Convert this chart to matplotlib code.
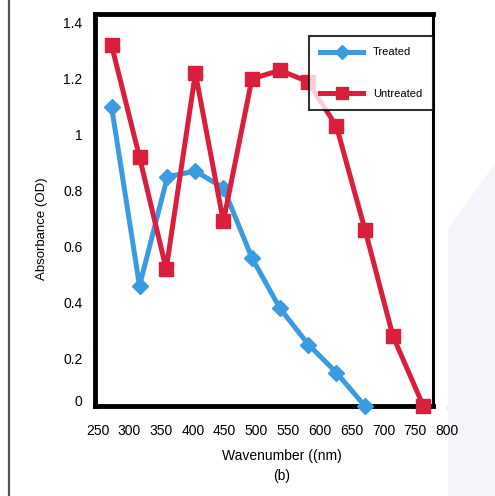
import matplotlib
matplotlib.use("Agg")
import matplotlib.pyplot as plt
from matplotlib.patches import Polygon
from matplotlib.lines import Line2D
from matplotlib.transforms import ScaledTranslation

plt.rcParams['font.family'] = ['Liberation Sans', 'DejaVu Sans']

# values
treated_x = [272, 316, 360, 404, 448, 493, 537, 582, 626, 671]
treated_y = [1.07, 0.43, 0.82, 0.84, 0.78, 0.53, 0.35, 0.22, 0.12, 0.0]
untreated_x = [272, 316, 358, 404, 448, 493, 537, 581, 626, 671, 715, 763]
untreated_y = [1.29, 0.89, 0.49, 1.19, 0.66, 1.17, 1.20, 1.16, 1.00, 0.63, 0.25, 0.0]
x_ticks = [250, 300, 350, 400, 450, 500, 550, 600, 650, 700, 750, 800]
y_ticks = [0, 0.2, 0.4, 0.6, 0.8, 1.0, 1.2, 1.4]
y_tick_labels = ['0', '0.2', '0.4', '0.6', '0.8', '1', '1.2', '1.4']

blue = '#3b9be0'
red = '#d91f3c'

fig = plt.figure(figsize=(4.95, 4.96), dpi=100)

# faint background shape at right and dark border line at left
fig.patches.append(Polygon([[0.905, 0.0], [0.905, 0.54], [1.0, 0.67], [1.0, 0.0]],
                           closed=True, transform=fig.transFigure,
                           facecolor='#f3f5fa', edgecolor='none', zorder=-1))
fig.add_artist(Line2D([0.018, 0.018], [0, 1], transform=fig.transFigure,
                      color='#555555', lw=1.6))

ax = fig.add_axes([0.192, 0.181, 0.711, 0.790])
ax.set_facecolor('none')
ax.set_zorder(2)

ax.plot(treated_x, treated_y, color=blue, lw=3.6, marker='D',
        markersize=8.5, label='Treated', clip_on=False, zorder=3)
ax.plot(untreated_x, untreated_y, color=red, lw=3.6, marker='s',
        markersize=10, label='Untreated', clip_on=False, zorder=4)

ax.set_xlim(246, 800)
ax.set_ylim(0, 1.4)

right_edge = 778
for side in ['left', 'top', 'bottom']:
    ax.spines[side].set_linewidth(3.5)
ax.spines['right'].set_linewidth(2.2)
ax.spines['right'].set_position(('data', right_edge))
ax.spines['top'].set_bounds(246, right_edge)
ax.spines['bottom'].set_bounds(246, right_edge)

ax.set_xticks(x_ticks)
ax.set_yticks(y_ticks)
ax.set_yticklabels(y_tick_labels)
ax.tick_params(axis='both', length=2, width=0.6, color='#dddddd', labelsize=10)
ax.tick_params(axis='x', pad=11)
ax.tick_params(axis='y', pad=7)

# the scanned labels sit a little below their ticks, except "0"
for lab in ax.get_yticklabels():
    dy = 4 / 72 if lab.get_text() == '0' else -6 / 72
    lab.set_transform(lab.get_transform() +
                      ScaledTranslation(0, dy, fig.dpi_scale_trans))

ax.set_ylabel('Absorbance (OD)', fontsize=9.5)
ax.set_xlabel('Wavenumber ((nm)\n(b)', fontsize=10, linespacing=1.5)
ax.xaxis.set_label_coords(0.531, -0.11)
ax.yaxis.set_label_coords(-0.134, 0.454)

leg = ax.legend(loc='upper right', bbox_to_anchor=((right_edge - 246) / (800 - 246), 0.944),
                borderaxespad=0, frameon=True, fancybox=False, fontsize=8,
                handlelength=3.8, handletextpad=0.9, labelspacing=2.8,
                borderpad=1.0, markerscale=0.8)
leg.get_frame().set_edgecolor('black')
leg.get_frame().set_linewidth(1.5)

fig.savefig('out.png', dpi=100)
